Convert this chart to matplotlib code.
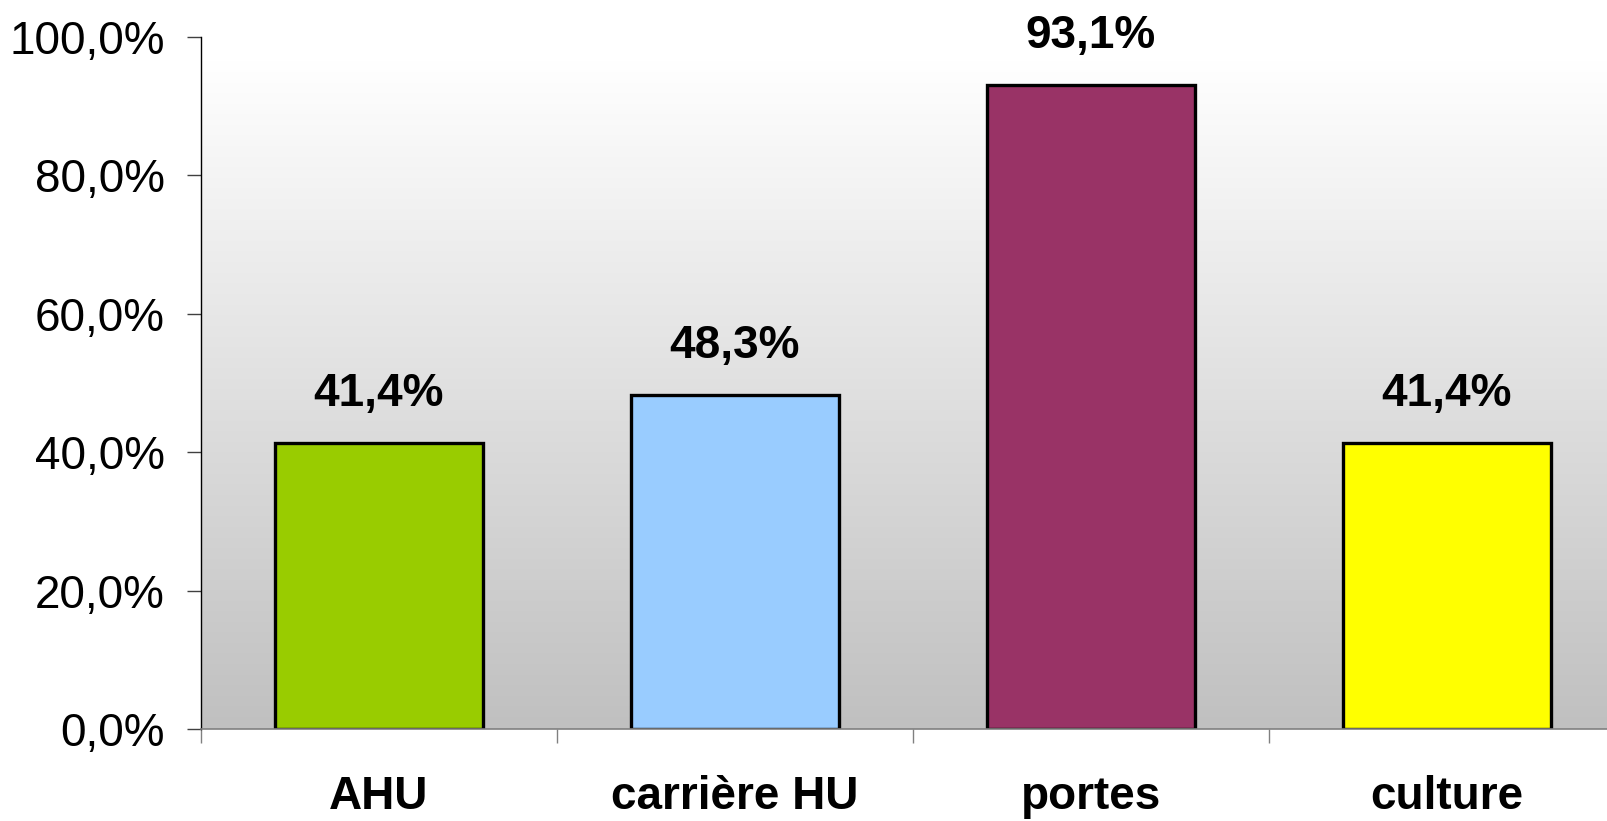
import numpy as np
import matplotlib.pyplot as plt
from matplotlib.colors import LinearSegmentedColormap

categories = ["AHU", "carrière HU", "portes", "culture"]
values = [41.4, 48.3, 93.1, 41.4]
colors = ["#99cc00", "#99ccff", "#993366", "#ffff00"]
yticks = [0, 20, 40, 60, 80, 100]

plt.rcParams["font.family"] = ["Liberation Sans", "DejaVu Sans"]

fig = plt.figure(figsize=(16.07, 8.21), dpi=100)
ax = fig.add_axes([0.125, 0.112, 0.875, 0.843])

# background gradient: white at top, grey at bottom
grad = np.linspace(0, 1, 256).reshape(-1, 1)
cmap = LinearSegmentedColormap.from_list("bg", ["#ffffff", "#c0c0c0"])
ax.imshow(grad, cmap=cmap, aspect="auto", extent=(-0.5, 3.45, 0, 96.6),
          origin="upper", zorder=0)

x = np.arange(len(categories))
bars = ax.bar(x, values, width=0.585, color=colors, edgecolor="black",
              linewidth=2.4, zorder=2)

for xi, v in zip(x, values):
    ax.annotate(f"{v:.1f}%".replace(".", ","), (xi, v), xytext=(0, 19),
                textcoords="offset points", ha="center", va="bottom",
                fontsize=33, fontweight="bold")

ax.set_xlim(-0.5, 3.45)
ax.set_ylim(0, 100)
ax.set_yticks(yticks)
ax.set_yticklabels([f"{t:.1f}%".replace(".", ",") for t in yticks], fontsize=33)
ax.tick_params(axis="y", length=10, width=1, pad=16, color="#404040")

ax.set_xticks(x)
ax.set_xticklabels(categories, fontsize=33, fontweight="bold")
ax.set_xticks(np.arange(-0.5, 3.5, 1), minor=True)
ax.tick_params(axis="x", which="major", length=0, pad=33)
ax.tick_params(axis="x", which="minor", length=10, width=1, color="#808080")

for s in ["top", "right"]:
    ax.spines[s].set_visible(False)
ax.spines["left"].set_color("black")
ax.spines["bottom"].set_color("#808080")
ax.spines["left"].set_linewidth(1)
ax.spines["bottom"].set_linewidth(1.2)

fig.savefig("out.png", dpi=100)
